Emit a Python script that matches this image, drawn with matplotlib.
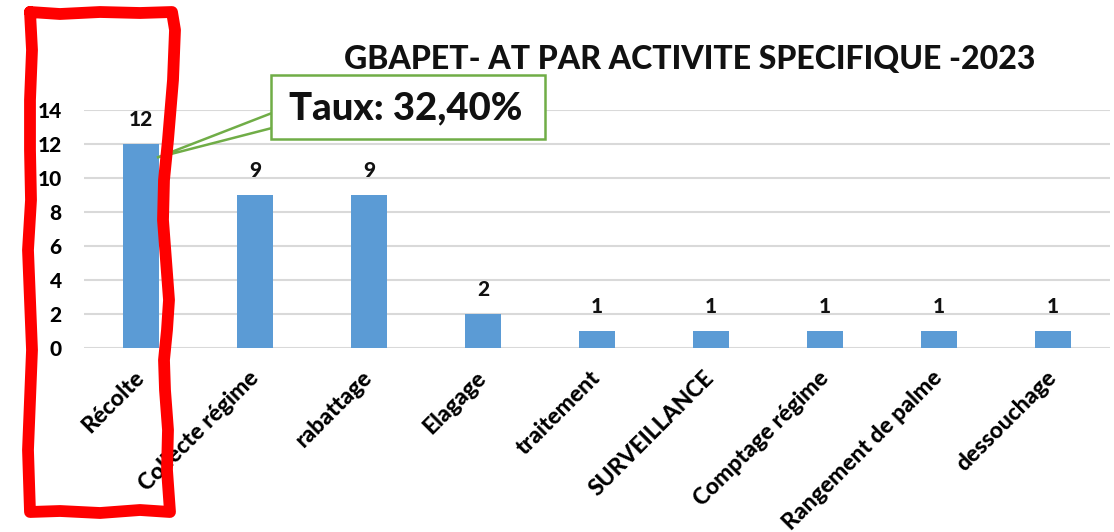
import matplotlib
matplotlib.use('Agg')
import matplotlib.pyplot as plt
from matplotlib.patches import Polygon
import numpy as np

# donnees
activites = ['Récolte', 'Collecte régime', 'rabattage', 'Elagage', 'traitement',
             'SURVEILLANCE', 'Comptage régime', 'Rangement de palme', 'dessouchage']
nb_at = [12, 9, 9, 2, 1, 1, 1, 1, 1]
titre = 'GBAPET- AT PAR ACTIVITE SPECIFIQUE -2023'
taux = 'Taux: 32,40%'

# contour rouge dessine a la main (pixels de l'image)
cadre_x = [30, 60, 100, 140, 172, 175, 173, 168, 164, 163, 166, 169, 167, 164, 165, 168, 167, 170,
           140, 100, 60, 30, 28, 30, 32, 30, 28, 31, 30, 30, 32, 30]
cadre_y = [12, 14, 12, 13, 12, 30, 80, 140, 180, 220, 260, 300, 330, 360, 390, 430, 470, 512,
           510, 513, 511, 512, 450, 400, 350, 300, 250, 200, 150, 100, 50, 12]

W, H = 1114, 532
plt.rcParams['font.family'] = ['Lato', 'DejaVu Sans']
plt.rcParams['font.weight'] = 'black'

fig = plt.figure(figsize=(W / 100, H / 100), dpi=100)
ax = fig.add_axes([84 / W, 1 - 348 / H, (1110 - 84) / W, (348 - 110) / H])

x = np.arange(len(activites))
ax.bar(x, nb_at, width=0.31, color='#5B9BD5', zorder=3)
for xi, v in zip(x, nb_at):
    ax.annotate(str(v), (xi, v), xytext=(0, 11), textcoords='offset points',
                ha='center', va='bottom', fontsize=15, fontweight='black', color='#111111')

ax.set_xlim(-0.5, len(activites) - 0.5)
ax.set_ylim(0, 14)
ax.set_yticks(np.arange(0, 15, 2))
ax.yaxis.grid(True, color='#D9D9D9', linewidth=1.5, zorder=0)
ax.set_axisbelow(True)
for s in ax.spines.values():
    s.set_visible(False)
ax.tick_params(axis='both', length=0, labelsize=15)
ax.tick_params(axis='y', pad=16)
ax.set_xticks(x)
ax.set_xticklabels(activites, rotation=45, ha='right', va='center',
                   rotation_mode='anchor', fontweight='black', fontsize=16.5)
ax.tick_params(axis='x', pad=19)
for lab in ax.get_yticklabels():
    lab.set_fontweight('black')

fig.text(690 / W, 1 - 60 / H, titre, ha='center', va='center',
         fontsize=23, fontweight='black', color='#111111')

# bulle "Taux"
def px(xp, yp):
    return (xp / W, 1 - yp / H)

tip = fig.transFigure.inverted().transform(ax.transData.transform((0.14, 11.2)))
wedge = Polygon([px(272, 113), tip, px(272, 128)], closed=True, transform=fig.transFigure,
                facecolor='white', edgecolor='#70AD47', linewidth=1.8, zorder=5)
fig.add_artist(wedge)
boite = Polygon([px(271, 75), px(545, 75), px(545, 139), px(271, 139)], closed=True,
                transform=fig.transFigure, facecolor='white', edgecolor='#70AD47',
                linewidth=1.8, zorder=6)
fig.add_artist(boite)
fig.text(406 / W, 1 - 108 / H, taux, ha='center', va='center', fontsize=27.5,
         fontweight='black', color='#111111', zorder=7)

# cadre rouge
cadre = plt.Line2D(np.array(cadre_x) / W, 1 - np.array(cadre_y) / H, transform=fig.transFigure,
                   color='#FF0000', linewidth=8.5, solid_joinstyle='round',
                   solid_capstyle='round', zorder=10)
fig.add_artist(cadre)

fig.savefig('out.png', dpi=100)
